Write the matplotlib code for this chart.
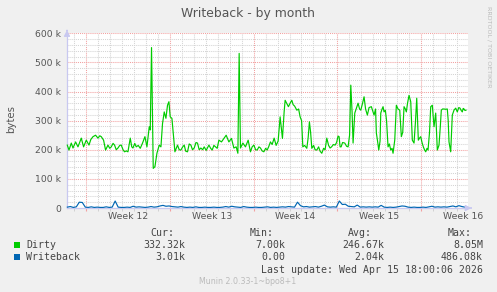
import matplotlib
matplotlib.use("Agg")
import matplotlib.pyplot as plt
from matplotlib.patches import Rectangle
from matplotlib.ticker import FixedLocator, FuncFormatter
import matplotlib.transforms as mtransforms

# ---------------- data ----------------
title = "Writeback - by month"
ylabel = "bytes"
week_labels = ["Week 12", "Week 13", "Week 14", "Week 15", "Week 16"]
week_starts = [0, 7, 14, 21, 28]          # days (start of each ISO week)
x_range = (-1.613, 31.955)                # days shown

# Dirty: time (days from start of Week 12) and value (kB)
dirty_t = [-1.588, -1.446, -1.254, -1.112, -0.894, -0.694, -0.418, -0.226, 0.0, 0.226,
           0.376, 0.560, 0.777, 0.978, 1.128, 1.254, 1.446, 1.613, 1.814, 1.964,
           2.090, 2.240, 2.365, 2.507, 2.650, 2.800, 2.925, 3.076, 3.201, 3.343,
           3.485, 3.678, 3.803, 3.903, 4.054, 4.179, 4.346, 4.514, 4.706, 4.906,
           5.074, 5.182, 5.266, 5.349, 5.458, 5.600, 5.742, 5.909, 6.102, 6.244,
           6.377, 6.520, 6.662, 6.795, 6.912, 7.021, 7.163, 7.297, 7.414, 7.523,
           7.631, 7.773, 7.915, 8.066, 8.191, 8.317, 8.467, 8.609, 8.751, 8.885,
           9.027, 9.177, 9.303, 9.445, 9.587, 9.737, 9.863, 10.030, 10.256, 10.406,
           10.532, 10.674, 10.807, 10.950, 11.092, 11.309, 11.510, 11.702, 11.927, 12.145,
           12.345, 12.538, 12.680, 12.788, 12.897, 13.098, 13.315, 13.541, 13.733, 13.875,
           14.017, 14.167, 14.293, 14.443, 14.569, 14.711, 14.853, 15.003, 15.129, 15.254,
           15.404, 15.547, 15.714, 15.881, 16.048, 16.215, 16.408, 16.550, 16.633, 16.759,
           16.909, 17.051, 17.193, 17.302, 17.427, 17.611, 17.762, 17.887, 18.012, 18.113,
           18.263, 18.447, 18.556, 18.664, 18.764, 18.865, 19.015, 19.141, 19.283, 19.433,
           19.559, 19.701, 19.851, 19.976, 20.118, 20.269, 20.395, 20.520, 20.670, 20.812,
           20.938, 21.063, 21.147, 21.230, 21.314, 21.439, 21.623, 21.774, 21.899, 22.024,
           22.125, 22.233, 22.317, 22.459, 22.610, 22.735, 22.860, 22.961, 23.111, 23.236,
           23.362, 23.512, 23.654, 23.846, 23.947, 24.072, 24.198, 24.265, 24.365, 24.465,
           24.574, 24.632, 24.741, 24.824, 24.908, 25.017, 25.117, 25.242, 25.351, 25.468,
           25.577, 25.660, 25.802, 25.936, 26.078, 26.220, 26.354, 26.471, 26.580, 26.688,
           26.772, 26.872, 26.998, 27.140, 27.273, 27.416, 27.541, 27.641, 27.775, 27.875,
           27.975, 28.084, 28.193, 28.293, 28.393, 28.502, 28.586, 28.711, 28.811, 28.945,
           29.087, 29.229, 29.363, 29.505, 29.614, 29.697, 29.798, 29.923, 30.048, 30.199,
           30.274, 30.341, 30.483, 30.550, 30.617, 30.759, 30.901, 31.035, 31.160, 31.260,
           31.361, 31.453, 31.528, 31.595, 31.678, 31.762]
dirty_k = [216, 199, 223, 206, 227, 210, 240, 210, 233, 216,
           235, 245, 250, 240, 248, 245, 233, 199, 216, 205,
           210, 222, 216, 200, 206, 215, 216, 200, 193, 196,
           193, 240, 210, 206, 222, 210, 215, 205, 223, 245,
           210, 250, 279, 268, 551, 136, 142, 188, 216, 210,
           290, 330, 308, 353, 365, 313, 308, 245, 193, 205,
           216, 200, 199, 210, 216, 195, 193, 220, 216, 200,
           206, 225, 223, 200, 206, 200, 210, 198, 216, 205,
           199, 215, 210, 205, 233, 227, 239, 250, 227, 239,
           206, 210, 188, 531, 206, 223, 210, 233, 193, 210,
           216, 200, 199, 210, 206, 196, 193, 205, 199, 210,
           227, 218, 240, 215, 230, 313, 239, 330, 370, 360,
           348, 360, 370, 355, 350, 336, 340, 313, 300, 210,
           215, 205, 240, 296, 260, 205, 215, 200, 199, 210,
           195, 188, 205, 200, 240, 215, 206, 210, 218, 216,
           225, 247, 245, 210, 210, 225, 223, 212, 210, 250,
           422, 330, 223, 326, 345, 360, 340, 336, 360, 382,
           340, 319, 345, 348, 335, 319, 340, 257, 230, 199,
           230, 326, 340, 348, 330, 336, 300, 210, 220, 199,
           205, 188, 233, 353, 340, 336, 245, 260, 348, 340,
           330, 360, 387, 365, 233, 223, 300, 377, 233, 240,
           245, 225, 210, 200, 193, 205, 199, 260, 348, 353,
           279, 326, 199, 216, 280, 336, 340, 340, 339, 340,
           300, 227, 193, 260, 319, 336, 343, 330, 345, 343,
           335, 330, 342, 340, 335, 336]

# Writeback: sampled every 6 hours, values in kB
writeback_hours = list(range(-38, 762, 6))
writeback_k = [3, 5, 2, 4, 20, 19, 3, 2, 4, 2,
               3, 2, 2, 4, 2, 3, 24, 3, 2, 2,
               3, 2, 6, 3, 4, 3, 2, 3, 5, 3,
               4, 7, 9, 6, 7, 5, 4, 3, 5, 3,
               2, 3, 2, 4, 2, 2, 3, 2, 2, 3,
               2, 2, 3, 5, 3, 6, 4, 3, 2, 5,
               3, 2, 2, 3, 2, 2, 3, 4, 2, 3,
               2, 3, 4, 3, 5, 4, 3, 20, 8, 4,
               5, 3, 4, 5, 3, 6, 10, 4, 3, 4,
               3, 24, 12, 13, 6, 5, 4, 10, 3, 4,
               3, 4, 3, 4, 3, 9, 3, 2, 3, 2,
               3, 5, 7, 6, 3, 2, 3, 2, 2, 3,
               2, 4, 6, 3, 4, 3, 4, 3, 5, 7,
               4, 8, 5, 3]

series_names = ["Dirty", "Writeback"]
series_colors = ["#00CC00", "#0066B3"]
stat_headers = ["Cur:", "Min:", "Avg:", "Max:"]
stats = [["332.32k", "7.00k", "246.67k", "8.05M"],
         ["3.01k", "0.00", "2.04k", "486.08k"]]
last_update = "Last update: Wed Apr 15 18:00:06 2026"
footer = "Munin 2.0.33-1~bpo8+1"
side_text = "RRDTOOL / TOBI OETIKER"

# ---------------- figure ----------------
W, H = 497, 292
fig = plt.figure(figsize=(W / 100, H / 100), dpi=100, facecolor="#F0F0F0")

def fx(px):
    return px / W

def fy(py):
    return 1 - py / H

left, right, top, bottom = 67, 468.3, 33.3, 208
ax = fig.add_axes([fx(left), fy(bottom), fx(right - left), (bottom - top) / H])
ax.set_facecolor("white")

dirty_b = [v * 1000 for v in dirty_k]
wb_t = [h / 24 for h in writeback_hours]
wb_b = [v * 1000 for v in writeback_k]

ax.plot(dirty_t, dirty_b, color=series_colors[0], lw=0.85, zorder=3, clip_on=False)
ax.plot(wb_t, wb_b, color=series_colors[1], lw=0.85, zorder=3, clip_on=False)

ax.set_xlim(*x_range)
ax.set_ylim(0, 600000)

# grid
ax.xaxis.set_major_locator(FixedLocator(week_starts))
ax.xaxis.set_minor_locator(FixedLocator([d for d in range(-1, 32) if d not in week_starts]))
ax.yaxis.set_major_locator(FixedLocator([0, 100000, 200000, 300000, 400000, 500000, 600000]))
ax.yaxis.set_minor_locator(FixedLocator([v * 20000 for v in range(31) if v % 5 != 0]))
ax.grid(which="major", color="#F2A0A0", linestyle=(0, (1, 1)), lw=0.75, zorder=1)
ax.grid(which="minor", color="#D4D4D4", linestyle=(0, (1, 1)), lw=0.75, zorder=0)
ax.set_axisbelow(True)

ax.yaxis.set_major_formatter(FuncFormatter(lambda v, p: "0" if v == 0 else f"{int(round(v / 1000))} k"))
ax.tick_params(axis="y", which="both", length=0, pad=4.3, labelsize=6.7, labelcolor="#555555")
ax.tick_params(axis="x", which="major", length=2, color="#F2A0A0", labelbottom=False)
ax.tick_params(axis="x", which="minor", length=2, color="#CCCCCC", labelbottom=False)

for s in ["top", "right"]:
    ax.spines[s].set_visible(False)
for s in ["left", "bottom"]:
    ax.spines[s].set_color("#C8C8F0")
    ax.spines[s].set_linewidth(0.9)

# axis arrows
ax.annotate("", xy=(0, 1.0 + 6 / (bottom - top)), xytext=(0, 1.0), xycoords="axes fraction",
            arrowprops=dict(arrowstyle="-|>,head_length=0.35,head_width=0.18", color="#C8C8F0", lw=0.9),
            annotation_clip=False)
ax.annotate("", xy=(1.0 + 6 / (right - left), 0), xytext=(1.0, 0), xycoords="axes fraction",
            arrowprops=dict(arrowstyle="-|>,head_length=0.35,head_width=0.18", color="#C8C8F0", lw=0.9),
            annotation_clip=False)

# week labels centered in each week
trans = ax.get_xaxis_transform()
for ws, lab in zip(week_starts, week_labels):
    ax.text(ws + 3.5, -8.7 / (bottom - top), lab, transform=trans, ha="center", va="center",
            fontsize=6.7, color="#555555", clip_on=False)

# title, y label, side text
fig.text(fx(248), fy(13.5), title, ha="center", va="center", fontsize=8.9, color="#555555")
fig.text(fx(11), fy(119), ylabel, ha="center", va="center", rotation=90, fontsize=7.3, color="#555555")
fig.text(fx(489), fy(6), side_text, ha="center", va="top", rotation=270, fontsize=4.6, color="#BBBBBB")

# legend
mono = "DejaVu Sans Mono"
lfs = 7.1
hdr_left = [150, 250, 348, 448]
val_right = [185, 285, 384, 483]
for x, h in zip(hdr_left, stat_headers):
    fig.text(fx(x), fy(233), h, ha="left", va="center", family=mono, fontsize=lfs, color="#444444")
row_y = [245.3, 257.3]
for i, name in enumerate(series_names):
    yc = row_y[i]
    fig.patches.append(Rectangle((fx(14), fy(yc + 2.8)), 6 / W, 6 / H, transform=fig.transFigure,
                                 facecolor=series_colors[i], edgecolor="none"))
    fig.text(fx(26), fy(yc), name, ha="left", va="center", family=mono, fontsize=lfs, color="#444444")
    for x, v in zip(val_right, stats[i]):
        fig.text(fx(x), fy(yc), v, ha="right", va="center", family=mono, fontsize=lfs, color="#444444")
fig.text(fx(483), fy(269.7), last_update, ha="right", va="center", family=mono, fontsize=lfs, color="#444444")
fig.text(fx(248), fy(281), footer, ha="center", va="center", fontsize=5.7, color="#BBBBBB")

fig.savefig("out.png", dpi=100, facecolor=fig.get_facecolor())
